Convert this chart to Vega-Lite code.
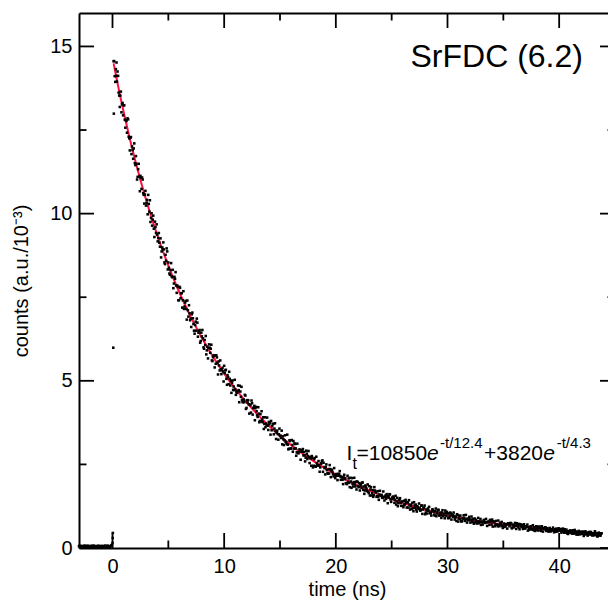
{
 "$schema": "https://vega.github.io/schema/vega-lite/v6.json",
 "width": 536, "height": 535,
 "autosize": "none",
 "padding": {"left": 79, "top": 13, "right": -7, "bottom": 57},
 "background": "white",
 "config": {"view": {"stroke": null}, "font": "Liberation Sans",
   "axis": {"labelFont": "Liberation Sans", "titleFont": "Liberation Sans", "labelColor": "black", "titleColor": "black", "tickColor": "black", "domainColor": "black", "grid": false, "titleFontWeight": "normal", "labelFlush": false, "labelOverlap": false},
   "text": {"font": "Liberation Sans", "color": "black"}},
 "datasets": {
  "one": [{"k": 1}],
  "xmaj": [{"v": 0}, {"v": 10}, {"v": 20}, {"v": 30}, {"v": 40}],
  "xmin": [{"v": 5}, {"v": 15}, {"v": 25}, {"v": 35}],
  "ymaj": [{"v": 0}, {"v": 5}, {"v": 10}, {"v": 15}],
  "ymin": [{"v": 2.5}, {"v": 7.5}, {"v": 12.5}],
  "fit": [
   {"t":0.1,"f":14.495},{"t":0.2,"f":14.323},{"t":0.3,"f":14.153},{"t":0.5,"f":13.822},{"t":0.75,"f":13.422},{"t":1,"f":13.037},{"t":1.5,"f":12.309},{"t":2,"f":11.633},{"t":2.5,"f":11.005},{"t":3,"f":10.42},{"t":3.5,"f":9.874},{"t":4,"f":9.365},{"t":4.5,"f":8.889},{"t":5,"f":8.444},{"t":5.5,"f":8.026},{"t":6,"f":7.634},{"t":6.5,"f":7.266},{"t":7,"f":6.92},{"t":7.5,"f":6.594},{"t":8,"f":6.286},{"t":8.5,"f":5.996},{"t":9,"f":5.722},{"t":9.5,"f":5.463},{"t":10,"f":5.217},{"t":10.5,"f":4.985},{"t":11,"f":4.764},{"t":11.5,"f":4.555},{"t":12,"f":4.357},{"t":12.5,"f":4.168},{"t":13,"f":3.989},{"t":13.5,"f":3.818},{"t":14,"f":3.656},{"t":14.5,"f":3.501},{"t":15,"f":3.353},{"t":15.5,"f":3.213},{"t":16,"f":3.078},{"t":16.5,"f":2.95},{"t":17,"f":2.828},{"t":17.5,"f":2.711},{"t":18,"f":2.599},{"t":18.5,"f":2.492},{"t":19,"f":2.39},{"t":19.5,"f":2.293},{"t":20,"f":2.199},{"t":21,"f":2.024},{"t":22,"f":1.863},{"t":23,"f":1.716},{"t":24,"f":1.581},{"t":25,"f":1.456},{"t":26,"f":1.342},{"t":27,"f":1.237},{"t":28,"f":1.14},{"t":29,"f":1.051},{"t":30,"f":0.974},{"t":31,"f":0.903},{"t":32,"f":0.844},{"t":33,"f":0.79},{"t":34,"f":0.741},{"t":35,"f":0.696},{"t":36,"f":0.656},{"t":37,"f":0.62},{"t":38,"f":0.587},{"t":39,"f":0.548},{"t":40,"f":0.511},{"t":41,"f":0.478},{"t":42,"f":0.447},{"t":43,"f":0.419},{"t":43.8,"f":0.397}
  ],
  "pts": [
   {"t":-3.0,"c":0.05},{"t":-2.9,"c":0.04},{"t":-2.8,"c":0.06},{"t":-2.7,"c":0.03},{"t":-2.6,"c":0.05},{"t":-2.5,"c":0.07},{"t":-2.4,"c":0.04},{"t":-2.3,"c":0.05},{"t":-2.2,"c":0.03},{"t":-2.1,"c":0.06},{"t":-2.0,"c":0.04},{"t":-1.9,"c":0.05},{"t":-1.8,"c":0.07},{"t":-1.7,"c":0.03},{"t":-1.6,"c":0.05},{"t":-1.5,"c":0.04},{"t":-1.4,"c":0.06},{"t":-1.3,"c":0.05},{"t":-1.2,"c":0.03},{"t":-1.1,"c":0.04},{"t":-1.0,"c":0.06},{"t":-0.9,"c":0.05},{"t":-0.8,"c":0.04},{"t":-0.7,"c":0.07},{"t":-0.6,"c":0.03},{"t":-0.5,"c":0.05},{"t":-0.4,"c":0.06},{"t":-0.3,"c":0.04},{"t":-0.2,"c":0.05},{"t":-0.1,"c":0.08},
   {"t":-2.95,"c":0.07},{"t":-2.85,"c":0.03},{"t":-2.75,"c":0.05},{"t":-2.65,"c":0.06},{"t":-2.55,"c":0.04},{"t":-2.45,"c":0.06},{"t":-2.35,"c":0.03},{"t":-2.25,"c":0.07},{"t":-2.15,"c":0.05},{"t":-2.05,"c":0.03},{"t":-1.95,"c":0.06},{"t":-1.85,"c":0.04},{"t":-1.75,"c":0.05},{"t":-1.65,"c":0.07},{"t":-1.55,"c":0.03},{"t":-1.45,"c":0.05},{"t":-1.35,"c":0.04},{"t":-1.25,"c":0.07},{"t":-1.15,"c":0.05},{"t":-1.05,"c":0.03},{"t":-0.95,"c":0.06},{"t":-0.85,"c":0.04},{"t":-0.75,"c":0.05},{"t":-0.65,"c":0.06},{"t":-0.55,"c":0.04},{"t":-0.45,"c":0.07},{"t":-0.35,"c":0.05},{"t":-0.25,"c":0.03},{"t":-0.15,"c":0.06},{"t":-0.05,"c":0.09},
   {"t":0.0,"c":0.15},{"t":0.02,"c":0.3},{"t":0.03,"c":0.45},{"t":0.07,"c":5.99},{"t":0.12,"c":12.99},{"t":0.36,"c":14.52},
   {"t":0.1,"c":14.56},{"t":0.2,"c":14.11},{"t":0.3,"c":14.32},{"t":0.4,"c":13.95},{"t":0.5,"c":14.12},{"t":0.6,"c":13.53},{"t":0.7,"c":13.53},{"t":0.8,"c":13.03},{"t":0.9,"c":13.31},{"t":1.0,"c":13.24},
   {"t":1.1,"c":12.81},{"t":1.2,"c":12.79},{"t":1.3,"c":12.42},{"t":1.4,"c":12.82},{"t":1.5,"c":12.25},{"t":1.6,"c":12.27},{"t":1.7,"c":11.78},{"t":1.8,"c":11.9},{"t":1.9,"c":11.95},{"t":2.0,"c":11.51},
   {"t":2.1,"c":11.72},{"t":2.2,"c":11.02},{"t":2.3,"c":11.33},{"t":2.4,"c":11.11},{"t":2.5,"c":11.13},{"t":2.6,"c":10.74},{"t":2.7,"c":11.02},{"t":2.8,"c":10.56},{"t":2.9,"c":10.57},{"t":3.0,"c":10.24},
   {"t":3.1,"c":10.41},{"t":3.2,"c":10.56},{"t":3.3,"c":10.06},{"t":3.4,"c":9.75},{"t":3.5,"c":10.01},{"t":3.6,"c":9.82},{"t":3.7,"c":9.55},{"t":3.8,"c":9.76},{"t":3.9,"c":9.42},{"t":4.0,"c":9.37},
   {"t":4.1,"c":9.27},{"t":4.2,"c":9.13},{"t":4.3,"c":9.26},{"t":4.4,"c":8.87},{"t":4.5,"c":8.94},{"t":4.6,"c":8.93},{"t":4.7,"c":8.49},{"t":4.8,"c":8.59},{"t":4.9,"c":8.87},{"t":5.0,"c":8.54},
   {"t":5.1,"c":8.21},{"t":5.2,"c":8.31},{"t":5.3,"c":8.12},{"t":5.4,"c":8.32},{"t":5.5,"c":7.91},{"t":5.6,"c":8.05},{"t":5.7,"c":7.85},{"t":5.8,"c":7.85},{"t":5.9,"c":7.41},{"t":6.0,"c":7.81},
   {"t":6.1,"c":7.47},{"t":6.2,"c":7.62},{"t":6.3,"c":7.41},{"t":6.4,"c":7.15},{"t":6.5,"c":7.34},{"t":6.6,"c":7.15},{"t":6.7,"c":7.4},{"t":6.8,"c":6.92},{"t":6.9,"c":7.02},{"t":7.0,"c":6.86},
   {"t":7.1,"c":6.99},{"t":7.2,"c":6.87},{"t":7.3,"c":6.5},{"t":7.4,"c":6.67},{"t":7.5,"c":6.5},{"t":7.6,"c":6.74},{"t":7.7,"c":6.44},{"t":7.8,"c":6.52},{"t":7.9,"c":6.19},{"t":8.0,"c":6.33},
   {"t":8.1,"c":6.27},{"t":8.2,"c":5.96},{"t":8.3,"c":6.07},{"t":8.4,"c":5.79},{"t":8.5,"c":6.02},{"t":8.6,"c":5.98},{"t":8.7,"c":5.99},{"t":8.8,"c":5.96},{"t":8.9,"c":5.61},{"t":9.0,"c":5.71},
   {"t":9.1,"c":5.75},{"t":9.2,"c":5.76},{"t":9.3,"c":5.76},{"t":9.4,"c":5.54},{"t":9.5,"c":5.58},{"t":9.6,"c":5.31},{"t":9.7,"c":5.34},{"t":9.8,"c":5.32},{"t":9.9,"c":5.28},{"t":10.0,"c":5.45},
   {"t":10.1,"c":5.31},{"t":10.2,"c":5.06},{"t":10.3,"c":5.17},{"t":10.4,"c":4.9},{"t":10.5,"c":5.06},{"t":10.6,"c":5.0},{"t":10.7,"c":4.94},{"t":10.8,"c":4.73},{"t":10.9,"c":4.72},{"t":11.0,"c":4.74},
   {"t":11.1,"c":4.67},{"t":11.2,"c":4.68},{"t":11.3,"c":4.72},{"t":11.4,"c":4.85},{"t":11.5,"c":4.52},{"t":11.6,"c":4.43},{"t":11.7,"c":4.37},{"t":11.8,"c":4.36},{"t":11.9,"c":4.56},{"t":12.0,"c":4.19},
   {"t":12.1,"c":4.35},{"t":12.2,"c":4.3},{"t":12.3,"c":4.29},{"t":12.4,"c":4.05},{"t":12.5,"c":4.33},{"t":12.6,"c":4.19},{"t":12.7,"c":4.25},{"t":12.8,"c":4.18},{"t":12.9,"c":4.09},{"t":13.0,"c":3.92},
   {"t":13.1,"c":4.02},{"t":13.2,"c":3.8},{"t":13.3,"c":3.79},{"t":13.4,"c":3.84},{"t":13.5,"c":3.91},{"t":13.6,"c":3.71},{"t":13.7,"c":3.61},{"t":13.8,"c":3.67},{"t":13.9,"c":3.66},{"t":14.0,"c":3.77},
   {"t":14.1,"c":3.75},{"t":14.2,"c":3.8},{"t":14.3,"c":3.64},{"t":14.4,"c":3.71},{"t":14.5,"c":3.57},{"t":14.6,"c":3.5},{"t":14.7,"c":3.45},{"t":14.8,"c":3.41},{"t":14.9,"c":3.4},{"t":15.0,"c":3.35},
   {"t":15.1,"c":3.29},{"t":15.2,"c":3.1},{"t":15.3,"c":3.25},{"t":15.4,"c":3.22},{"t":15.5,"c":3.18},{"t":15.6,"c":3.11},{"t":15.7,"c":3.09},{"t":15.8,"c":2.97},{"t":15.9,"c":3.2},{"t":16.0,"c":2.98},
   {"t":16.1,"c":3.08},{"t":16.2,"c":3.2},{"t":16.3,"c":3.13},{"t":16.4,"c":2.98},{"t":16.5,"c":2.86},{"t":16.6,"c":2.85},{"t":16.7,"c":2.87},{"t":16.8,"c":2.9},{"t":16.9,"c":2.92},{"t":17.0,"c":2.93},
   {"t":17.1,"c":2.77},{"t":17.2,"c":2.77},{"t":17.3,"c":2.7},{"t":17.4,"c":2.82},{"t":17.5,"c":2.75},{"t":17.6,"c":2.72},{"t":17.7,"c":2.72},{"t":17.8,"c":2.46},{"t":17.9,"c":2.69},{"t":18.0,"c":2.46},
   {"t":18.1,"c":2.69},{"t":18.2,"c":2.43},{"t":18.3,"c":2.54},{"t":18.4,"c":2.46},{"t":18.5,"c":2.47},{"t":18.6,"c":2.41},{"t":18.7,"c":2.53},{"t":18.8,"c":2.62},{"t":18.9,"c":2.55},{"t":19.0,"c":2.39},
   {"t":19.1,"c":2.42},{"t":19.2,"c":2.33},{"t":19.3,"c":2.22},{"t":19.4,"c":2.23},{"t":19.5,"c":2.36},{"t":19.6,"c":2.32},{"t":19.7,"c":2.27},{"t":19.8,"c":2.14},{"t":19.9,"c":2.19},{"t":20.0,"c":2.16},
   {"t":20.1,"c":2.21},{"t":20.2,"c":2.16},{"t":20.3,"c":2.21},{"t":20.4,"c":2.15},{"t":20.5,"c":2.13},{"t":20.6,"c":2.04},{"t":20.7,"c":2.11},{"t":20.8,"c":2.06},{"t":20.9,"c":1.94},{"t":21.0,"c":1.91},
   {"t":21.1,"c":1.98},{"t":21.2,"c":1.95},{"t":21.3,"c":2.1},{"t":21.4,"c":1.8},{"t":21.5,"c":1.92},{"t":21.6,"c":1.97},{"t":21.7,"c":1.9},{"t":21.8,"c":1.98},{"t":21.9,"c":1.99},{"t":22.0,"c":1.85},
   {"t":22.1,"c":1.94},{"t":22.2,"c":1.92},{"t":22.3,"c":1.8},{"t":22.4,"c":1.96},{"t":22.5,"c":1.84},{"t":22.6,"c":1.72},{"t":22.7,"c":1.82},{"t":22.8,"c":1.7},{"t":22.9,"c":1.68},{"t":23.0,"c":1.85},
   {"t":23.1,"c":1.75},{"t":23.2,"c":1.57},{"t":23.3,"c":1.73},{"t":23.4,"c":1.58},{"t":23.5,"c":1.72},{"t":23.6,"c":1.66},{"t":23.7,"c":1.55},{"t":23.8,"c":1.53},{"t":23.9,"c":1.6},{"t":24.0,"c":1.57},
   {"t":24.1,"c":1.59},{"t":24.2,"c":1.51},{"t":24.3,"c":1.52},{"t":24.4,"c":1.53},{"t":24.5,"c":1.47},{"t":24.6,"c":1.54},{"t":24.7,"c":1.55},{"t":24.8,"c":1.61},{"t":24.9,"c":1.45},{"t":25.0,"c":1.47},
   {"t":25.1,"c":1.49},{"t":25.2,"c":1.5},{"t":25.3,"c":1.44},{"t":25.4,"c":1.3},{"t":25.5,"c":1.5},{"t":25.6,"c":1.34},{"t":25.7,"c":1.43},{"t":25.8,"c":1.35},{"t":25.9,"c":1.38},{"t":26.0,"c":1.26},
   {"t":26.1,"c":1.41},{"t":26.2,"c":1.32},{"t":26.3,"c":1.37},{"t":26.4,"c":1.37},{"t":26.5,"c":1.21},{"t":26.6,"c":1.3},{"t":26.7,"c":1.25},{"t":26.8,"c":1.17},{"t":26.9,"c":1.19},{"t":27.0,"c":1.37},
   {"t":27.1,"c":1.2},{"t":27.2,"c":1.15},{"t":27.3,"c":1.25},{"t":27.4,"c":1.17},{"t":27.5,"c":1.2},{"t":27.6,"c":1.13},{"t":27.7,"c":1.27},{"t":27.8,"c":1.15},{"t":27.9,"c":1.2},{"t":28.0,"c":1.01},
   {"t":28.1,"c":1.15},{"t":28.2,"c":1.12},{"t":28.3,"c":1.12},{"t":28.4,"c":1.04},{"t":28.5,"c":1.04},{"t":28.6,"c":1.11},{"t":28.7,"c":1.13},{"t":28.8,"c":1.0},{"t":28.9,"c":1.1},{"t":29.0,"c":0.95},
   {"t":29.1,"c":1.08},{"t":29.2,"c":1.14},{"t":29.3,"c":0.99},{"t":29.4,"c":0.98},{"t":29.5,"c":1.06},{"t":29.6,"c":0.96},{"t":29.7,"c":1.03},{"t":29.8,"c":1.12},{"t":29.9,"c":0.96},{"t":30.0,"c":1.04},
   {"t":30.1,"c":1.03},{"t":30.2,"c":0.95},{"t":30.3,"c":1.03},{"t":30.4,"c":1.0},{"t":30.5,"c":0.93},{"t":30.6,"c":0.96},{"t":30.7,"c":0.91},{"t":30.8,"c":0.81},{"t":30.9,"c":0.99},{"t":31.0,"c":0.88},
   {"t":31.1,"c":0.87},{"t":31.2,"c":0.81},{"t":31.3,"c":0.81},{"t":31.4,"c":0.88},{"t":31.5,"c":0.9},{"t":31.6,"c":0.83},{"t":31.7,"c":0.87},{"t":31.8,"c":0.87},{"t":31.9,"c":0.89},{"t":32.0,"c":0.84},
   {"t":32.1,"c":0.85},{"t":32.2,"c":0.78},{"t":32.3,"c":0.87},{"t":32.4,"c":0.74},{"t":32.5,"c":0.78},{"t":32.6,"c":0.77},{"t":32.7,"c":0.79},{"t":32.8,"c":0.79},{"t":32.9,"c":0.79},{"t":33.0,"c":0.69},
   {"t":33.1,"c":0.77},{"t":33.2,"c":0.78},{"t":33.3,"c":0.79},{"t":33.4,"c":0.77},{"t":33.5,"c":0.77},{"t":33.6,"c":0.78},{"t":33.7,"c":0.79},{"t":33.8,"c":0.84},{"t":33.9,"c":0.79},{"t":34.0,"c":0.85},
   {"t":34.1,"c":0.8},{"t":34.2,"c":0.78},{"t":34.3,"c":0.71},{"t":34.4,"c":0.7},{"t":34.5,"c":0.65},{"t":34.6,"c":0.68},{"t":34.7,"c":0.75},{"t":34.8,"c":0.7},{"t":34.9,"c":0.66},{"t":35.0,"c":0.64},
   {"t":35.1,"c":0.72},{"t":35.2,"c":0.66},{"t":35.3,"c":0.71},{"t":35.4,"c":0.73},{"t":35.5,"c":0.74},{"t":35.6,"c":0.69},{"t":35.7,"c":0.74},{"t":35.8,"c":0.6},{"t":35.9,"c":0.68},{"t":36.0,"c":0.67},
   {"t":36.1,"c":0.67},{"t":36.2,"c":0.74},{"t":36.3,"c":0.66},{"t":36.4,"c":0.72},{"t":36.5,"c":0.71},{"t":36.6,"c":0.65},{"t":36.7,"c":0.69},{"t":36.8,"c":0.63},{"t":36.9,"c":0.65},{"t":37.0,"c":0.62},
   {"t":37.1,"c":0.64},{"t":37.2,"c":0.52},{"t":37.3,"c":0.57},{"t":37.4,"c":0.6},{"t":37.5,"c":0.64},{"t":37.6,"c":0.56},{"t":37.7,"c":0.54},{"t":37.8,"c":0.52},{"t":37.9,"c":0.58},{"t":38.0,"c":0.54},
   {"t":38.1,"c":0.64},{"t":38.2,"c":0.59},{"t":38.3,"c":0.61},{"t":38.4,"c":0.51},{"t":38.5,"c":0.6},{"t":38.6,"c":0.59},{"t":38.7,"c":0.56},{"t":38.8,"c":0.61},{"t":38.9,"c":0.56},{"t":39.0,"c":0.52},
   {"t":39.1,"c":0.53},{"t":39.2,"c":0.5},{"t":39.3,"c":0.53},{"t":39.4,"c":0.53},{"t":39.5,"c":0.52},{"t":39.6,"c":0.5},{"t":39.7,"c":0.49},{"t":39.8,"c":0.5},{"t":39.9,"c":0.55},{"t":40.0,"c":0.55},
   {"t":40.1,"c":0.52},{"t":40.2,"c":0.46},{"t":40.3,"c":0.53},{"t":40.4,"c":0.49},{"t":40.5,"c":0.56},{"t":40.6,"c":0.46},{"t":40.7,"c":0.49},{"t":40.8,"c":0.42},{"t":40.9,"c":0.51},{"t":41.0,"c":0.52},
   {"t":41.1,"c":0.46},{"t":41.2,"c":0.48},{"t":41.3,"c":0.43},{"t":41.4,"c":0.54},{"t":41.5,"c":0.45},{"t":41.6,"c":0.48},{"t":41.7,"c":0.4},{"t":41.8,"c":0.45},{"t":41.9,"c":0.49},{"t":42.0,"c":0.42},
   {"t":42.1,"c":0.49},{"t":42.2,"c":0.36},{"t":42.3,"c":0.45},{"t":42.4,"c":0.43},{"t":42.5,"c":0.46},{"t":42.6,"c":0.4},{"t":42.7,"c":0.48},{"t":42.8,"c":0.41},{"t":42.9,"c":0.43},{"t":43.0,"c":0.38},
   {"t":43.1,"c":0.44},{"t":43.2,"c":0.5},{"t":43.3,"c":0.4},{"t":43.4,"c":0.35},{"t":43.5,"c":0.44},{"t":43.6,"c":0.42},{"t":43.7,"c":0.37},{"t":43.8,"c":0.44},
   {"t":0.15,"c":14.56},{"t":0.25,"c":13.94},{"t":0.35,"c":14.12},{"t":0.45,"c":14.25},{"t":0.55,"c":13.62},{"t":0.65,"c":13.19},{"t":0.75,"c":13.65},{"t":0.85,"c":13.27},{"t":0.95,"c":12.94},{"t":1.05,"c":13.24},
   {"t":1.15,"c":12.57},{"t":1.25,"c":12.77},{"t":1.35,"c":12.85},{"t":1.45,"c":12.3},{"t":1.55,"c":11.89},{"t":1.65,"c":12.29},{"t":1.75,"c":12.01},{"t":1.85,"c":11.64},{"t":1.95,"c":12.1},{"t":2.05,"c":11.45},
   {"t":2.15,"c":11.49},{"t":2.25,"c":11.1},{"t":2.35,"c":11.49},{"t":2.45,"c":10.67},{"t":2.55,"c":11.07},{"t":2.65,"c":11.08},{"t":2.75,"c":10.61},{"t":2.85,"c":10.3},{"t":2.95,"c":10.68},{"t":3.05,"c":10.32},
   {"t":3.15,"c":9.98},{"t":3.25,"c":10.29},{"t":3.35,"c":10.4},{"t":3.45,"c":9.87},{"t":3.55,"c":9.64},{"t":3.65,"c":9.94},{"t":3.75,"c":9.3},{"t":3.85,"c":9.6},{"t":3.95,"c":9.68},{"t":4.05,"c":9.17},
   {"t":4.15,"c":9.42},{"t":4.25,"c":9.01},{"t":4.35,"c":8.69},{"t":4.45,"c":8.99},{"t":4.55,"c":9.14},{"t":4.65,"c":8.54},{"t":4.75,"c":8.77},{"t":4.85,"c":8.96},{"t":4.95,"c":8.33},{"t":5.05,"c":8.38},
   {"t":5.15,"c":8.17},{"t":5.25,"c":8.52},{"t":5.35,"c":8.1},{"t":5.45,"c":7.77},{"t":5.55,"c":8.11},{"t":5.65,"c":8.25},{"t":5.75,"c":7.63},{"t":5.85,"c":7.81},{"t":5.95,"c":7.41},{"t":6.05,"c":7.78},
   {"t":6.15,"c":7.62},{"t":6.25,"c":7.19},{"t":6.35,"c":7.68},{"t":6.45,"c":7.22},{"t":6.55,"c":7.39},{"t":6.65,"c":6.83},{"t":6.75,"c":7.11},{"t":6.85,"c":7.26},{"t":6.95,"c":6.81},{"t":7.05,"c":6.61},
   {"t":7.15,"c":7.04},{"t":7.25,"c":6.7},{"t":7.35,"c":6.41},{"t":7.45,"c":6.77},{"t":7.55,"c":6.86},{"t":7.65,"c":6.32},{"t":7.75,"c":6.48},{"t":7.85,"c":6.14},{"t":7.95,"c":6.44},{"t":8.05,"c":6.52},
   {"t":8.15,"c":6.0},{"t":8.25,"c":6.22},{"t":8.35,"c":6.34},{"t":8.45,"c":5.91},{"t":8.55,"c":5.67},{"t":8.65,"c":6.09},{"t":8.75,"c":5.84},{"t":8.85,"c":6.08},{"t":8.95,"c":5.59},{"t":9.05,"c":5.76},
   {"t":9.15,"c":5.4},{"t":9.25,"c":5.51},{"t":9.35,"c":5.7},{"t":9.45,"c":5.19},{"t":9.55,"c":5.46},{"t":9.65,"c":5.61},{"t":9.75,"c":5.2},{"t":9.85,"c":5.39},{"t":9.95,"c":4.98},{"t":10.05,"c":5.23},
   {"t":10.15,"c":5.33},{"t":10.25,"c":4.88},{"t":10.35,"c":5.11},{"t":10.45,"c":5.27},{"t":10.55,"c":4.86},{"t":10.65,"c":4.64},{"t":10.75,"c":5.01},{"t":10.85,"c":4.83},{"t":10.95,"c":5.03},{"t":11.05,"c":4.58},
   {"t":11.15,"c":4.64},{"t":11.25,"c":4.86},{"t":11.35,"c":4.36},{"t":11.45,"c":4.68},{"t":11.55,"c":4.82},{"t":11.65,"c":4.36},{"t":11.75,"c":4.44},{"t":11.85,"c":4.58},{"t":11.95,"c":4.16},{"t":12.05,"c":4.42},
   {"t":12.15,"c":4.42},{"t":12.25,"c":4.02},{"t":12.35,"c":4.27},{"t":12.45,"c":4.41},{"t":12.55,"c":3.99},{"t":12.65,"c":4.19},{"t":12.75,"c":3.82},{"t":12.85,"c":4.22},{"t":12.95,"c":3.97},{"t":13.05,"c":4.21},
   {"t":13.15,"c":3.76},{"t":13.25,"c":4.0},{"t":13.35,"c":4.09},{"t":13.45,"c":3.76},{"t":13.55,"c":3.56},{"t":13.65,"c":3.91},{"t":13.75,"c":3.72},{"t":13.85,"c":3.9},{"t":13.95,"c":3.53},{"t":14.05,"c":3.7},
   {"t":14.15,"c":3.39},{"t":14.25,"c":3.52},{"t":14.35,"c":3.71},{"t":14.45,"c":3.4},{"t":14.55,"c":3.73},{"t":14.65,"c":3.26},{"t":14.75,"c":3.51},{"t":14.85,"c":3.24},{"t":14.95,"c":3.57},{"t":15.05,"c":3.36},
   {"t":15.15,"c":3.51},{"t":15.25,"c":3.34},{"t":15.35,"c":3.08},{"t":15.45,"c":3.37},{"t":15.55,"c":3.16},{"t":15.65,"c":3.39},{"t":15.75,"c":2.95},{"t":15.85,"c":3.22},{"t":15.95,"c":2.97},{"t":16.05,"c":3.23},
   {"t":16.15,"c":2.88},{"t":16.25,"c":2.97},{"t":16.35,"c":3.11},{"t":16.45,"c":2.76},{"t":16.55,"c":3.12},{"t":16.65,"c":2.83},{"t":16.75,"c":2.95},{"t":16.85,"c":2.64},{"t":16.95,"c":2.88},{"t":17.05,"c":2.96},
   {"t":17.15,"c":2.87},{"t":17.25,"c":2.59},{"t":17.35,"c":2.91},{"t":17.45,"c":2.66},{"t":17.55,"c":2.9},{"t":17.65,"c":2.54},{"t":17.75,"c":2.68},{"t":17.85,"c":2.75},{"t":17.95,"c":2.41},{"t":18.05,"c":2.65},
   {"t":18.15,"c":2.45},{"t":18.25,"c":2.73},{"t":18.35,"c":2.48},{"t":18.45,"c":2.6},{"t":18.55,"c":2.28},{"t":18.65,"c":2.52},{"t":18.75,"c":2.6},{"t":18.85,"c":2.28},{"t":18.95,"c":2.42},{"t":19.05,"c":2.2},
   {"t":19.15,"c":2.5},{"t":19.25,"c":2.24},{"t":19.35,"c":2.36},{"t":19.45,"c":2.48},{"t":19.55,"c":2.12},{"t":19.65,"c":2.34},{"t":19.75,"c":2.21},{"t":19.85,"c":2.39},{"t":19.95,"c":2.09},{"t":20.05,"c":2.21},
   {"t":20.15,"c":2.03},{"t":20.25,"c":2.22},{"t":20.35,"c":2.3},{"t":20.45,"c":2.04},{"t":20.55,"c":2.12},{"t":20.65,"c":1.91},{"t":20.75,"c":2.19},{"t":20.85,"c":2.09},{"t":20.95,"c":1.93},{"t":21.05,"c":2.16},
   {"t":21.15,"c":2.08},{"t":21.25,"c":1.82},{"t":21.35,"c":1.99},{"t":21.45,"c":2.09},{"t":21.55,"c":1.84},{"t":21.65,"c":2.1},{"t":21.75,"c":1.84},{"t":21.85,"c":1.75},{"t":21.95,"c":1.97},{"t":22.05,"c":1.82},
   {"t":22.15,"c":1.72},{"t":22.25,"c":1.87},{"t":22.35,"c":1.95},{"t":22.45,"c":1.74},{"t":22.55,"c":1.62},{"t":22.65,"c":1.87},{"t":22.75,"c":1.77},{"t":22.85,"c":1.9},{"t":22.95,"c":1.64},{"t":23.05,"c":1.57},
   {"t":23.15,"c":1.82},{"t":23.25,"c":1.64},{"t":23.35,"c":1.53},{"t":23.45,"c":1.82},{"t":23.55,"c":1.68},{"t":23.65,"c":1.53},{"t":23.75,"c":1.7},{"t":23.85,"c":1.44},{"t":23.95,"c":1.71},{"t":24.05,"c":1.56},
   {"t":24.15,"c":1.5},{"t":24.25,"c":1.69},{"t":24.35,"c":1.42},{"t":24.45,"c":1.57},{"t":24.55,"c":1.61},{"t":24.65,"c":1.34},{"t":24.75,"c":1.51},{"t":24.85,"c":1.6},{"t":24.95,"c":1.38},{"t":25.05,"c":1.51},
   {"t":25.15,"c":1.54},{"t":25.25,"c":1.35},{"t":25.35,"c":1.56},{"t":25.45,"c":1.39},{"t":25.55,"c":1.25},{"t":25.65,"c":1.44},{"t":25.75,"c":1.49},{"t":25.85,"c":1.26},{"t":25.95,"c":1.39},{"t":26.05,"c":1.22},
   {"t":26.15,"c":1.29},{"t":26.25,"c":1.44},{"t":26.35,"c":1.21},{"t":26.45,"c":1.36},{"t":26.55,"c":1.43},{"t":26.65,"c":1.15},{"t":26.75,"c":1.28},{"t":26.85,"c":1.35},{"t":26.95,"c":1.1},{"t":27.05,"c":1.27},
   {"t":27.15,"c":1.3},{"t":27.25,"c":1.09},{"t":27.35,"c":1.22},{"t":27.45,"c":1.33},{"t":27.55,"c":1.12},{"t":27.65,"c":1.27},{"t":27.75,"c":1.02},{"t":27.85,"c":1.2},{"t":27.95,"c":1.27},{"t":28.05,"c":1.06},
   {"t":28.15,"c":1.03},{"t":28.25,"c":1.18},{"t":28.35,"c":1.23},{"t":28.45,"c":1.06},{"t":28.55,"c":0.97},{"t":28.65,"c":1.16},{"t":28.75,"c":1.09},{"t":28.85,"c":0.97},{"t":28.95,"c":1.18},{"t":29.05,"c":1.03},
   {"t":29.15,"c":1.14},{"t":29.25,"c":0.97},{"t":29.35,"c":1.06},{"t":29.45,"c":0.9},{"t":29.55,"c":1.13},{"t":29.65,"c":0.98},{"t":29.75,"c":0.89},{"t":29.85,"c":1.05},{"t":29.95,"c":1.08},{"t":30.05,"c":0.89},
   {"t":30.15,"c":0.9},{"t":30.25,"c":1.06},{"t":30.35,"c":0.85},{"t":30.45,"c":0.98},{"t":30.55,"c":1.06},{"t":30.65,"c":0.85},{"t":30.75,"c":0.94},{"t":30.85,"c":1.01},{"t":30.95,"c":0.79},{"t":31.05,"c":0.96},
   {"t":31.15,"c":0.97},{"t":31.25,"c":0.79},{"t":31.35,"c":0.9},{"t":31.45,"c":0.98},{"t":31.55,"c":0.81},{"t":31.65,"c":0.99},{"t":31.75,"c":0.76},{"t":31.85,"c":0.83},{"t":31.95,"c":0.93},{"t":32.05,"c":0.76},
   {"t":32.15,"c":0.94},{"t":32.25,"c":0.79},{"t":32.35,"c":0.73},{"t":32.45,"c":0.88},{"t":32.55,"c":0.84},{"t":32.65,"c":0.73},{"t":32.75,"c":0.9},{"t":32.85,"c":0.74},{"t":32.95,"c":0.87},{"t":33.05,"c":0.79},
   {"t":33.15,"c":0.7},{"t":33.25,"c":0.84},{"t":33.35,"c":0.75},{"t":33.45,"c":0.87},{"t":33.55,"c":0.66},{"t":33.65,"c":0.78},{"t":33.75,"c":0.69},{"t":33.85,"c":0.83},{"t":33.95,"c":0.7},{"t":34.05,"c":0.64},
   {"t":34.15,"c":0.78},{"t":34.25,"c":0.65},{"t":34.35,"c":0.81},{"t":34.45,"c":0.7},{"t":34.55,"c":0.82},{"t":34.65,"c":0.65},{"t":34.75,"c":0.73},{"t":34.85,"c":0.78},{"t":34.95,"c":0.6},{"t":35.05,"c":0.73},
   {"t":35.15,"c":0.63},{"t":35.25,"c":0.71},{"t":35.35,"c":0.58},{"t":35.45,"c":0.74},{"t":35.55,"c":0.65},{"t":35.65,"c":0.75},{"t":35.75,"c":0.59},{"t":35.85,"c":0.7},{"t":35.95,"c":0.62},{"t":36.05,"c":0.75},
   {"t":36.15,"c":0.57},{"t":36.25,"c":0.69},{"t":36.35,"c":0.62},{"t":36.45,"c":0.56},{"t":36.55,"c":0.7},{"t":36.65,"c":0.63},{"t":36.75,"c":0.57},{"t":36.85,"c":0.71},{"t":36.95,"c":0.58},{"t":37.05,"c":0.64},
   {"t":37.15,"c":0.7},{"t":37.25,"c":0.63},{"t":37.35,"c":0.55},{"t":37.45,"c":0.65},{"t":37.55,"c":0.56},{"t":37.65,"c":0.68},{"t":37.75,"c":0.62},{"t":37.85,"c":0.51},{"t":37.95,"c":0.65},{"t":38.05,"c":0.59},
   {"t":38.15,"c":0.52},{"t":38.25,"c":0.64},{"t":38.35,"c":0.55},{"t":38.45,"c":0.65},{"t":38.55,"c":0.49},{"t":38.65,"c":0.58},{"t":38.75,"c":0.62},{"t":38.85,"c":0.51},{"t":38.95,"c":0.59},{"t":39.05,"c":0.49},
   {"t":39.15,"c":0.6},{"t":39.25,"c":0.5},{"t":39.35,"c":0.56},{"t":39.45,"c":0.61},{"t":39.55,"c":0.47},{"t":39.65,"c":0.56},{"t":39.75,"c":0.58},{"t":39.85,"c":0.5},{"t":39.95,"c":0.59},{"t":40.05,"c":0.55},
   {"t":40.15,"c":0.57},{"t":40.25,"c":0.52},{"t":40.35,"c":0.58},{"t":40.45,"c":0.46},{"t":40.55,"c":0.53},{"t":40.65,"c":0.55},{"t":40.75,"c":0.43},{"t":40.85,"c":0.5},{"t":40.95,"c":0.46},{"t":41.05,"c":0.52},
   {"t":41.15,"c":0.43},{"t":41.25,"c":0.53},{"t":41.35,"c":0.45},{"t":41.45,"c":0.5},{"t":41.55,"c":0.4},{"t":41.65,"c":0.48},{"t":41.75,"c":0.51},{"t":41.85,"c":0.41},{"t":41.95,"c":0.47},{"t":42.05,"c":0.43},
   {"t":42.15,"c":0.48},{"t":42.25,"c":0.4},{"t":42.35,"c":0.5},{"t":42.45,"c":0.41},{"t":42.55,"c":0.37},{"t":42.65,"c":0.47},{"t":42.75,"c":0.41},{"t":42.85,"c":0.48},{"t":42.95,"c":0.38},{"t":43.05,"c":0.44},
   {"t":43.15,"c":0.38},{"t":43.25,"c":0.45},{"t":43.35,"c":0.43},{"t":43.45,"c":0.35},{"t":43.55,"c":0.46},{"t":43.65,"c":0.38},{"t":43.75,"c":0.44}
  ]
 },
 "resolve": {"axis": {"x": "independent", "y": "independent"}},
 "layer": [
  {
   "data": {"name": "xmaj"},
   "mark": {"type": "rule", "color": "#000000", "strokeWidth": 1.8, "strokeCap": "butt"},
   "encoding": {"x": {"field": "v", "type": "quantitative", "scale": {"domain": [-3, 45], "nice": false, "zero": false}, "axis": null}, "y": {"datum": 0, "type": "quantitative", "scale": {"domain": [0, 16], "nice": false, "zero": false}, "axis": null}, "y2": {"datum": 0.4486}}
  },
  {
   "data": {"name": "xmin"},
   "mark": {"type": "rule", "color": "#000000", "strokeWidth": 1.8, "strokeCap": "butt"},
   "encoding": {"x": {"field": "v", "type": "quantitative", "axis": null}, "y": {"datum": 0, "type": "quantitative", "axis": null}, "y2": {"datum": 0.2243}}
  },
  {
   "data": {"name": "xmaj"},
   "mark": {"type": "rule", "color": "#000000", "strokeWidth": 1.8, "strokeCap": "butt"},
   "encoding": {"x": {"field": "v", "type": "quantitative", "axis": null}, "y": {"datum": 16, "type": "quantitative", "axis": null}, "y2": {"datum": 15.5514}}
  },
  {
   "data": {"name": "xmin"},
   "mark": {"type": "rule", "color": "#000000", "strokeWidth": 1.8, "strokeCap": "butt"},
   "encoding": {"x": {"field": "v", "type": "quantitative", "axis": null}, "y": {"datum": 16, "type": "quantitative", "axis": null}, "y2": {"datum": 15.7757}}
  },
  {
   "data": {"name": "ymaj"},
   "mark": {"type": "rule", "color": "#000000", "strokeWidth": 1.8, "strokeCap": "butt"},
   "encoding": {"y": {"field": "v", "type": "quantitative", "axis": null}, "x": {"datum": -3, "type": "quantitative", "axis": null}, "x2": {"datum": -1.6568}}
  },
  {
   "data": {"name": "ymin"},
   "mark": {"type": "rule", "color": "#000000", "strokeWidth": 1.8, "strokeCap": "butt"},
   "encoding": {"y": {"field": "v", "type": "quantitative", "axis": null}, "x": {"datum": -3, "type": "quantitative", "axis": null}, "x2": {"datum": -2.3284}}
  },
  {
   "data": {"name": "ymaj"},
   "mark": {"type": "rule", "color": "#000000", "strokeWidth": 1.8, "strokeCap": "butt"},
   "encoding": {"y": {"field": "v", "type": "quantitative", "axis": null}, "x": {"datum": 45, "type": "quantitative", "axis": null}, "x2": {"datum": 43.6568}}
  },
  {
   "data": {"name": "ymin"},
   "mark": {"type": "rule", "color": "#000000", "strokeWidth": 1.8, "strokeCap": "butt"},
   "encoding": {"y": {"field": "v", "type": "quantitative", "axis": null}, "x": {"datum": 45, "type": "quantitative", "axis": null}, "x2": {"datum": 44.3284}}
  },
  {
   "data": {"name": "fit"},
   "mark": {"type": "line", "color": "#ff1040", "strokeWidth": 2},
   "encoding": {
    "x": {"field": "t", "type": "quantitative", "scale": {"domain": [-3, 45], "nice": false, "zero": false}, "axis": null},
    "y": {"field": "f", "type": "quantitative", "scale": {"domain": [0, 16], "nice": false, "zero": false}, "axis": null}
   }
  },
  {
   "data": {"name": "pts"},
   "mark": {"type": "point", "shape": "square", "filled": true, "size": 6.5, "color": "black", "opacity": 1},
   "encoding": {
    "x": {"field": "t", "type": "quantitative", "scale": {"domain": [-3, 45], "nice": false, "zero": false},
          "axis": {"orient": "bottom", "values": [0, 10, 20, 30, 40], "ticks": false, "labelFontSize": 20, "labelPadding": 8, "domain": true, "domainWidth": 2, "title": "time (ns)", "titleFontSize": 20, "titlePadding": 3}},
    "y": {"field": "c", "type": "quantitative", "scale": {"domain": [0, 16], "nice": false, "zero": false},
          "axis": {"orient": "left", "values": [0, 5, 10, 15], "ticks": false, "labelFontSize": 20, "labelPadding": 7, "domain": true, "domainWidth": 2, "title": "counts (a.u./10⁻³)", "titleFontSize": 20, "titlePadding": 18}}
   }
  },
  {
   "data": {"name": "one"},
   "mark": {"type": "text", "text": "I", "fontSize": 21, "align": "left", "baseline": "alphabetic"},
   "encoding": {
    "x": {"datum": 20.95, "type": "quantitative", "axis": {"orient": "top", "ticks": false, "labels": false, "domain": true, "domainWidth": 2, "title": null}},
    "y": {"datum": 2.617, "type": "quantitative", "axis": {"orient": "right", "ticks": false, "labels": false, "domain": true, "domainWidth": 2, "title": null}}
   }
  },
  {
   "data": {"name": "one"},
   "mark": {"type": "text", "text": "SrFDC (6.2)", "fontSize": 32, "align": "right", "baseline": "alphabetic"},
   "encoding": {"x": {"datum": 42.13, "type": "quantitative", "axis": null}, "y": {"datum": 14.38, "type": "quantitative", "axis": null}}
  },
  {
   "data": {"name": "one"},
   "mark": {"type": "text", "text": "t", "fontSize": 16, "align": "left", "baseline": "alphabetic"},
   "encoding": {"x": {"datum": 21.49, "type": "quantitative", "axis": null}, "y": {"datum": 2.35, "type": "quantitative", "axis": null}}
  },
  {
   "data": {"name": "one"},
   "mark": {"type": "text", "text": "=10850", "fontSize": 21, "align": "left", "baseline": "alphabetic"},
   "encoding": {"x": {"datum": 21.85, "type": "quantitative", "axis": null}, "y": {"datum": 2.617, "type": "quantitative", "axis": null}}
  },
  {
   "data": {"name": "one"},
   "mark": {"type": "text", "text": "e", "fontSize": 21, "fontStyle": "italic", "align": "left", "baseline": "alphabetic"},
   "encoding": {"x": {"datum": 28.16, "type": "quantitative", "axis": null}, "y": {"datum": 2.617, "type": "quantitative", "axis": null}}
  },
  {
   "data": {"name": "one"},
   "mark": {"type": "text", "text": "-t/12.4", "fontSize": 15, "align": "left", "baseline": "alphabetic"},
   "encoding": {"x": {"datum": 29.33, "type": "quantitative", "axis": null}, "y": {"datum": 2.99, "type": "quantitative", "axis": null}}
  },
  {
   "data": {"name": "one"},
   "mark": {"type": "text", "text": "+3820", "fontSize": 21, "align": "left", "baseline": "alphabetic"},
   "encoding": {"x": {"datum": 33.27, "type": "quantitative", "axis": null}, "y": {"datum": 2.617, "type": "quantitative", "axis": null}}
  },
  {
   "data": {"name": "one"},
   "mark": {"type": "text", "text": "e", "fontSize": 21, "fontStyle": "italic", "align": "left", "baseline": "alphabetic"},
   "encoding": {"x": {"datum": 38.58, "type": "quantitative", "axis": null}, "y": {"datum": 2.617, "type": "quantitative", "axis": null}}
  },
  {
   "data": {"name": "one"},
   "mark": {"type": "text", "text": "-t/4.3", "fontSize": 15, "align": "left", "baseline": "alphabetic"},
   "encoding": {"x": {"datum": 39.78, "type": "quantitative", "axis": null}, "y": {"datum": 2.99, "type": "quantitative", "axis": null}}
  }
 ]
}
